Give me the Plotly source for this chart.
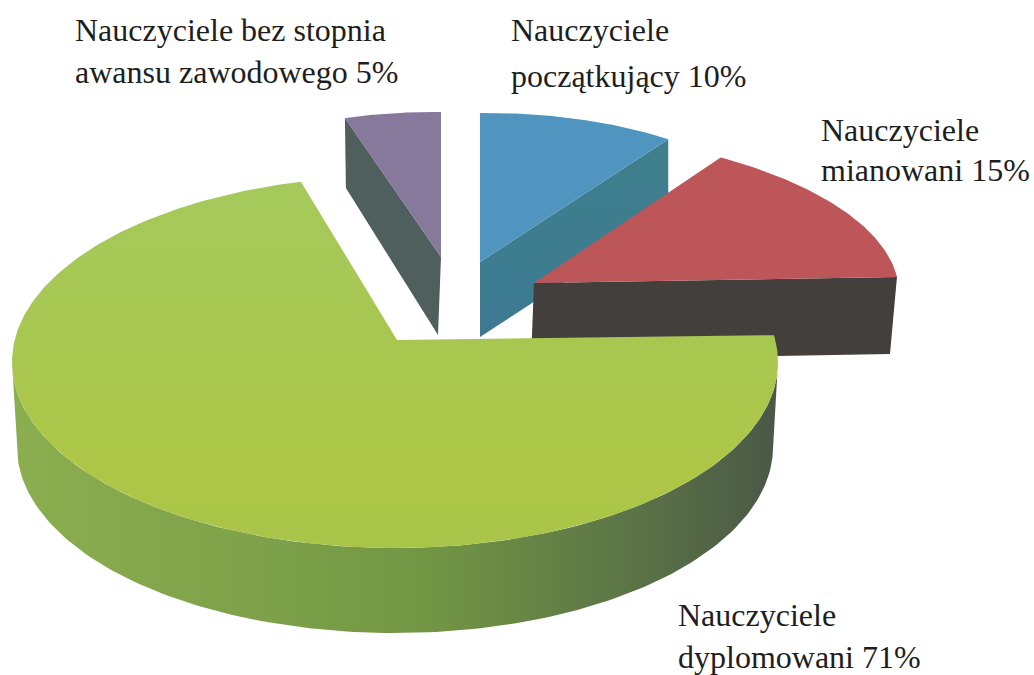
import numpy as np
import plotly.graph_objects as go

categories = ["początkujący", "mianowani", "dyplomowani", "bez stopnia"]
values = [10, 15, 71, 5]
label_lines = [
    ["Nauczyciele", "początkujący 10%"],
    ["Nauczyciele", "mianowani 15%"],
    ["Nauczyciele", "dyplomowani 71%"],
    ["Nauczyciele bez stopnia", "awansu zawodowego 5%"],
]

FONT = "Liberation Serif"
FS = 32

# slice angles (clockwise from 12 o'clock) come from the values
total = sum(values)
edges = np.cumsum([0] + values) / total * 360.0
span = {c: (edges[i], edges[i + 1]) for i, c in enumerate(categories)}


def arc(cat):
    a0, a1 = span[cat]
    return np.radians(np.linspace(a0, a1, 90))


fig = go.Figure()


def poly(xs, ys, color=None, grad=None):
    kw = dict(x=list(xs) + [xs[0]], y=list(ys) + [ys[0]], mode="lines", fill="toself",
              line=dict(width=0), hoverinfo="skip", showlegend=False)
    if grad:
        kw["fillgradient"] = grad
    else:
        kw["fillcolor"] = color
    fig.add_trace(go.Scatter(**kw))


def sector(cat, apex, a, b):
    t = arc(cat)
    x = apex[0] + a[0] * np.sin(t) + b[0] * np.cos(t)
    y = apex[1] + a[1] * np.sin(t) + b[1] * np.cos(t)
    return np.r_[apex[0], x], np.r_[apex[1], y]


# blue
x, y = sector("początkujący", (480, 262), (323, -3), (0, -149))
poly([x[-1], x[0], x[0], x[-1]], [y[-1], y[0], y[0] + 75, y[-1] + 75],
     grad=dict(type="vertical", colorscale=[[0, "#3d7a92"], [1, "#3f7f8c"]]))
poly(x, y, "#5095bf")

# grey-violet
x, y = sector("bez stopnia", (441, 257), (314, 3), (0, -145))
poly([x[1], x[0], x[0] - 3, x[1] + 1], [y[1], y[0], y[0] + 78, y[1] + 70], "#4f5f5e")
poly(x, y, "#86799c")

# red
x, y = sector("mianowani", (534, 283), (363.5, -3.6), (-31, -152))
poly([x[0], x[-1], x[-1] - 7, x[0] - 3], [y[0], y[-1], y[-1] + 77, y[0] + 77], "#423f3d")
poly(x, y, "#bd5658")

# green: wall then top
cx, cy, rx, ry = 395, 362, 383, 186
depth, rxb = 85, 378
tw = np.radians(np.linspace(90, 270, 160))
wx = np.r_[cx + rx * np.sin(tw), cx + rxb * np.sin(tw[::-1])]
wy = np.r_[cy - ry * np.cos(tw), cy + depth - ry * np.cos(tw[::-1])]
poly(wx, wy, grad=dict(type="horizontal", colorscale=[
    [0, "#8bae50"], [0.3, "#7fa24a"], [0.55, "#729544"], [0.8, "#5c7546"], [1, "#4a5847"]]))

# the slice's span comes from its value; the apex sits off the ellipse centre, hence the small skews
a0, a1 = span["dyplomowani"]
t = np.radians(np.linspace(a0 - 7.4, a1 + 3.6, 300))
gx = cx + rx * np.sin(t)
gy = cy - ry * np.cos(t)
poly(np.r_[397, gx], np.r_[340, gy], grad=dict(type="vertical", colorscale=[
    [0, "#a8c44a"], [0.2, "#aec646"], [0.55, "#a8c750"], [1, "#a5c95c"]]))

label_pos = [
    (511, [30, 76]),
    (821, [130, 170]),
    (678, [615, 657]),
    (75, [30, 72]),
]
for lines, (lx, lys) in zip(label_lines, label_pos):
    for line, ly in zip(lines, lys):
        fig.add_annotation(x=lx, y=ly, text=line, showarrow=False, xanchor="left", yanchor="middle",
                           xshift=-2, font=dict(family=FONT, size=FS, color="#1e1e1e"))

fig.update_layout(
    width=1034, height=675, margin=dict(l=0, r=0, t=0, b=0),
    paper_bgcolor="white", plot_bgcolor="white", showlegend=False,
    xaxis=dict(range=[0, 1034], visible=False, fixedrange=True),
    yaxis=dict(range=[675, 0], visible=False, fixedrange=True),
)
fig.write_html("out.html", config={"displayModeBar": False},
               post_script="document.body.style.margin='0';document.body.style.overflow='hidden';")
